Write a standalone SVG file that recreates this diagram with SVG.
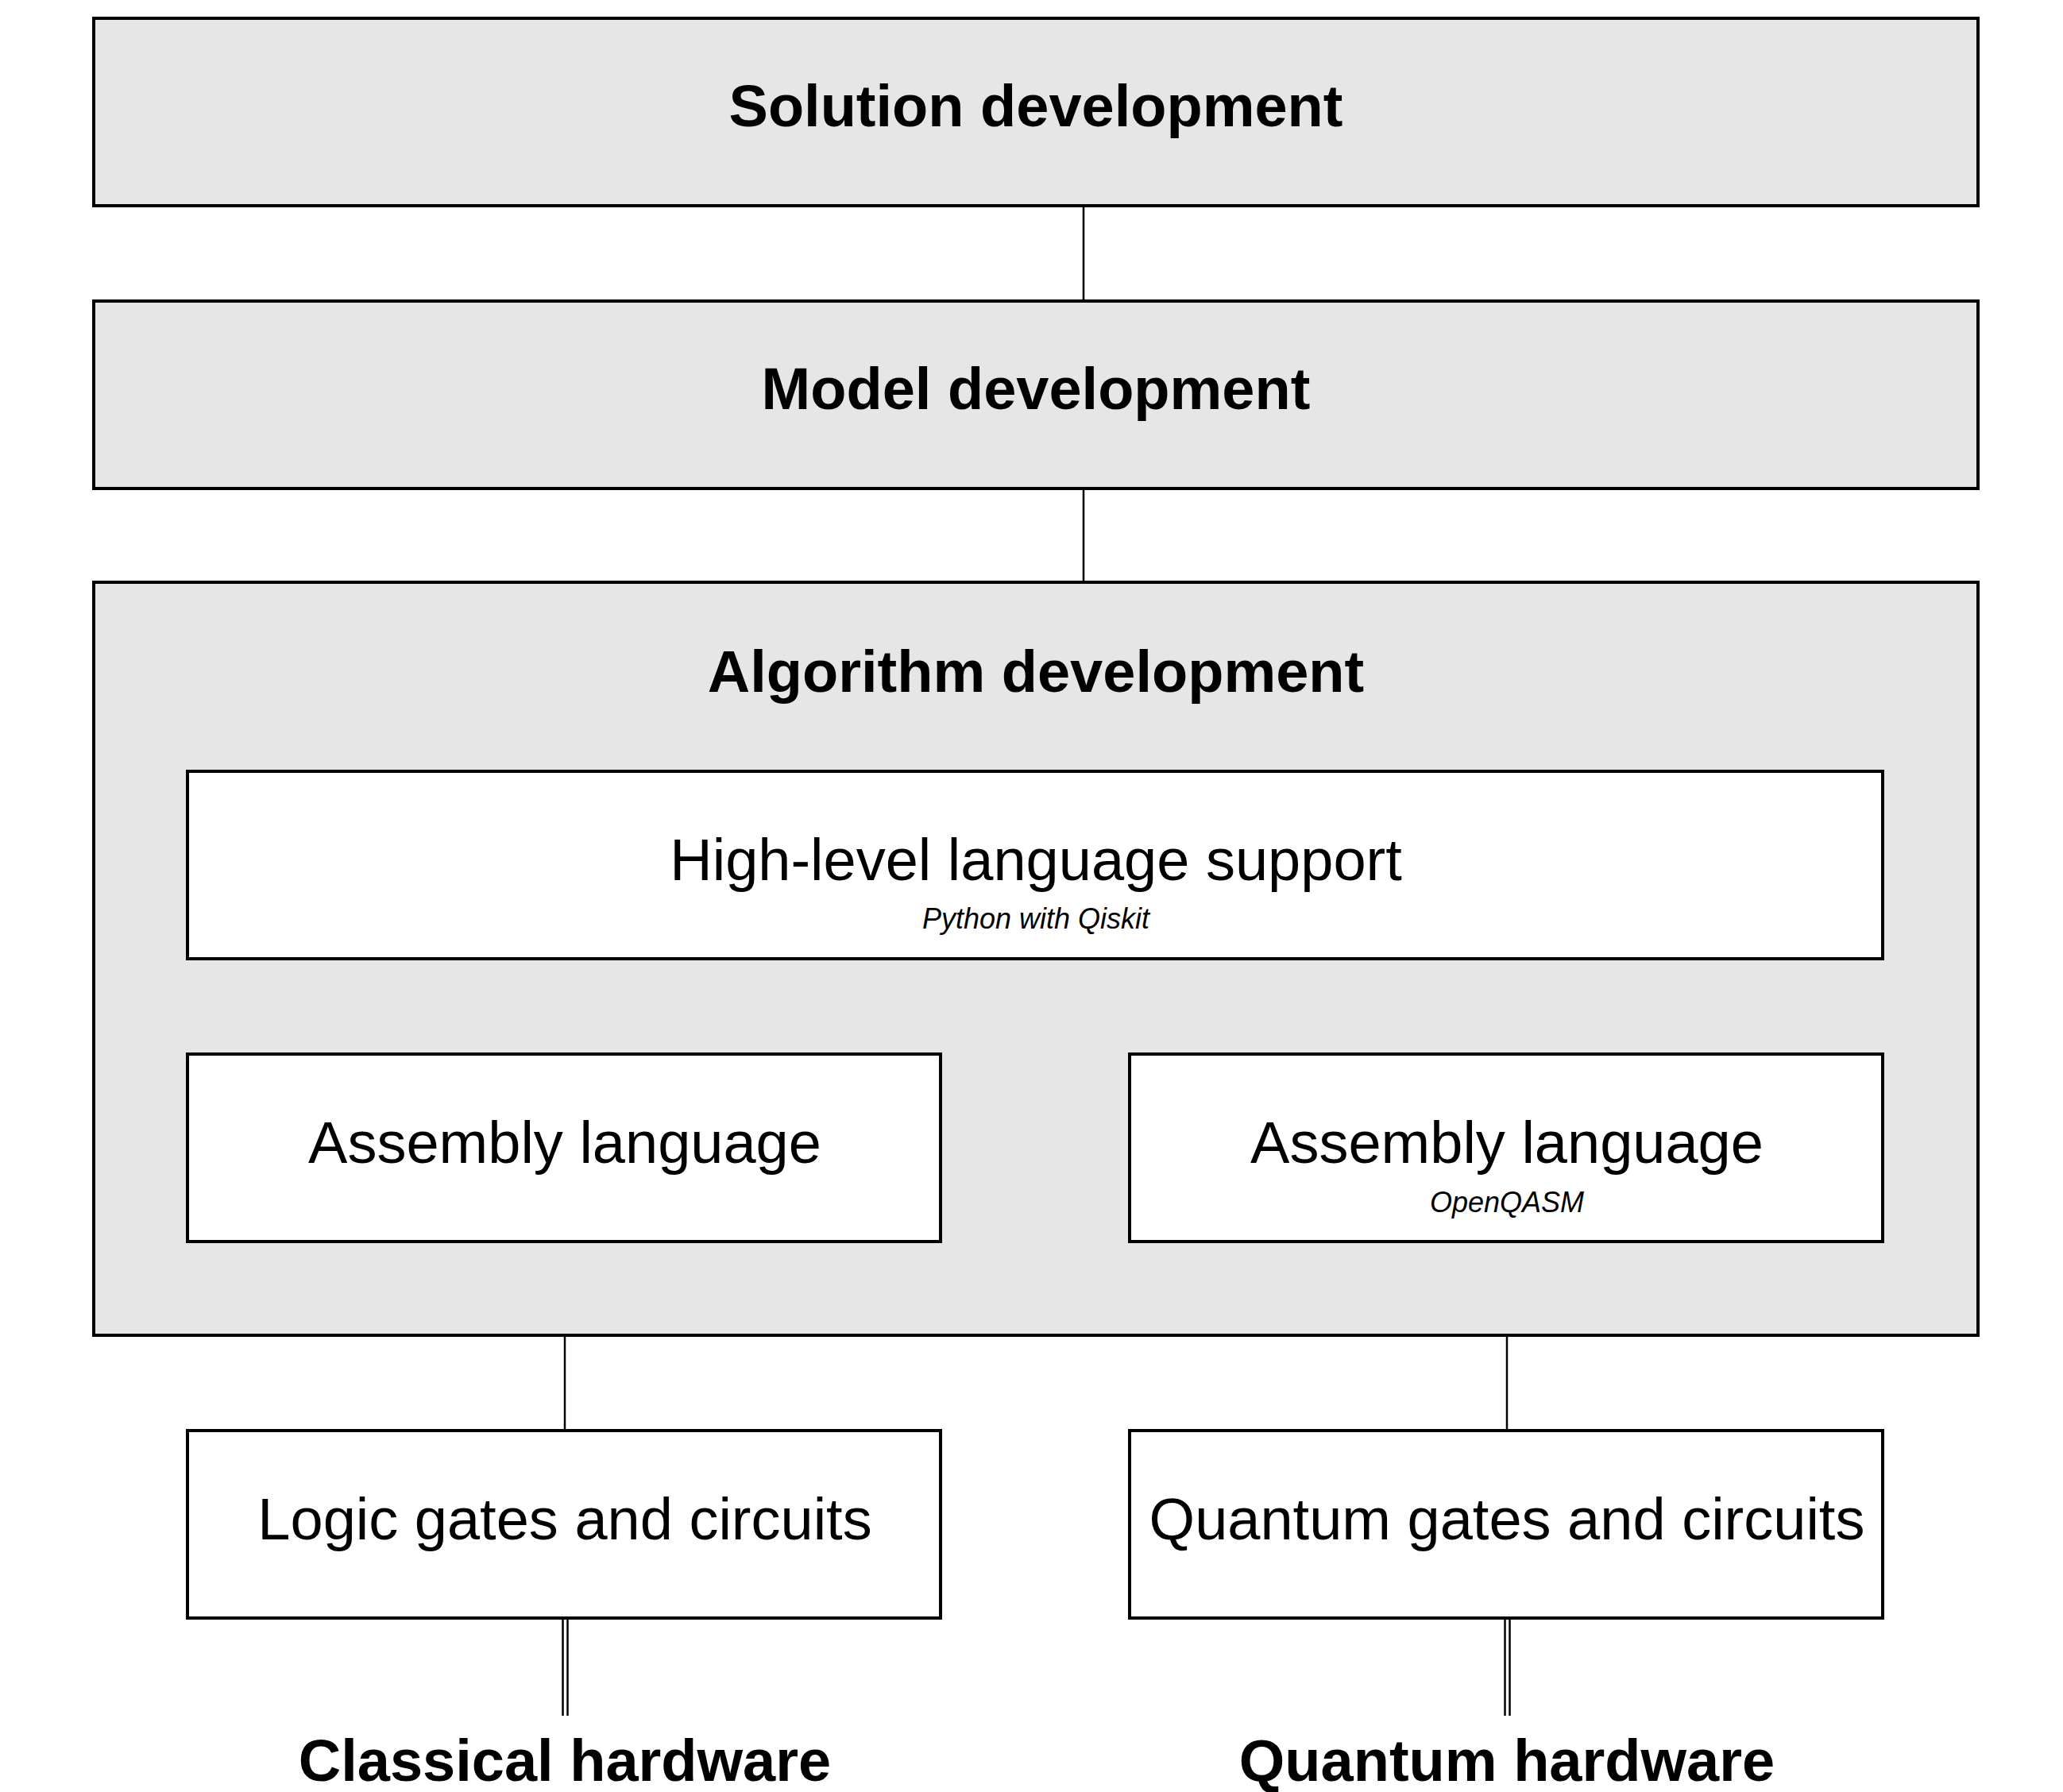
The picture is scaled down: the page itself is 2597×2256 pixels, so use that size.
<svg xmlns="http://www.w3.org/2000/svg" width="2597" height="2256" viewBox="0 0 2597 2256">
<style>
.g{fill:#e6e6e6;stroke:#000;stroke-width:4}
.w{fill:#fff;stroke:#000;stroke-width:4}
.c{stroke:#000;stroke-width:2.5;fill:none}
.b{font-family:"Liberation Sans",Arial,sans-serif;font-weight:bold;font-size:74px;text-anchor:middle}
.r{font-family:"Liberation Sans",Arial,sans-serif;font-size:74px;text-anchor:middle}
.i{font-family:"Liberation Sans",Arial,sans-serif;font-style:italic;font-size:36px;text-anchor:middle}
</style>
<rect width="2597" height="2256" fill="#fff"/>
<g id="connectors">
<line class="c" x1="1364" y1="259" x2="1364" y2="379"/>
<line class="c" x1="1364" y1="615" x2="1364" y2="733"/>
<line class="c" x1="711" y1="1207" x2="711" y2="1327"/>
<line class="c" x1="1897" y1="1207" x2="1897" y2="1327"/>
<line class="c" x1="711" y1="1563" x2="711" y2="1800"/>
<line class="c" x1="1897" y1="1563" x2="1897" y2="1800"/>
<line class="c" x1="708.5" y1="2037" x2="708.5" y2="2160"/>
<line class="c" x1="714.5" y1="2037" x2="714.5" y2="2160"/>
<line class="c" x1="1894.5" y1="2037" x2="1894.5" y2="2160"/>
<line class="c" x1="1900.5" y1="2037" x2="1900.5" y2="2160"/>
</g>
<g id="solution"><rect class="g" x="118" y="23" width="2372" height="236"/><text class="b" x="1304" y="159">Solution development</text></g>
<g id="model"><rect class="g" x="118" y="379" width="2372" height="236"/><text class="b" x="1304" y="515">Model development</text></g>
<g id="algorithm"><rect class="g" x="118" y="733" width="2372" height="948"/><text class="b" x="1304" y="871">Algorithm development</text></g>
<g id="highlevel"><rect class="w" x="236" y="971" width="2134" height="236"/><text class="r" x="1304" y="1108">High-level language support</text><text class="i" x="1304" y="1169">Python with Qiskit</text></g>
<g id="asm-left"><rect class="w" x="236" y="1327" width="948" height="236"/><text class="r" x="711" y="1464">Assembly language</text></g>
<g id="asm-right"><rect class="w" x="1422" y="1327" width="948" height="236"/><text class="r" x="1897" y="1464">Assembly language</text><text class="i" x="1897" y="1526">OpenQASM</text></g>
<g id="logic"><rect class="w" x="236" y="1801" width="948" height="236"/><text class="r" x="711" y="1938">Logic gates and circuits</text></g>
<g id="quantum"><rect class="w" x="1422" y="1801" width="948" height="236"/><text class="r" x="1897" y="1938">Quantum gates and circuits</text></g>
<g id="classical-hw"><text class="b" x="711" y="2242">Classical hardware</text></g>
<g id="quantum-hw"><text class="b" x="1897" y="2242">Quantum hardware</text></g>
</svg>
